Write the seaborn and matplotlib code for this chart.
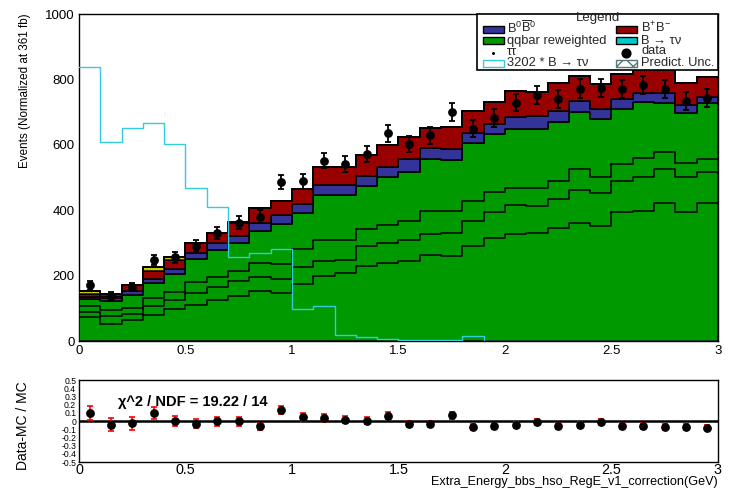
import numpy as np
import pandas as pd
import matplotlib
matplotlib.use("Agg")
import matplotlib.pyplot as plt
from matplotlib.patches import Rectangle
from matplotlib.lines import Line2D
from matplotlib.ticker import MultipleLocator, FixedLocator, FixedFormatter
import seaborn as sns

# ---- binning: extra energy, 30 bins of 0.1 GeV ----
n_bins = 30
e_range = (0.0, 3.0)
bin_edges = np.linspace(e_range[0], e_range[1], n_bins + 1)
bin_centers = 0.5 * (bin_edges[:-1] + bin_edges[1:])

# ---- stacked MC samples (events per bin, normalised to 361 fb^-1) ----
qqbar = [128, 123, 140, 176, 205, 250, 278, 299, 335, 358,
         390, 446, 447, 474, 502, 517, 556, 553, 605, 633,
         649, 649, 670, 700, 678, 709, 731, 727, 696, 727]
b0b0bar = [6, 7, 12, 15, 16, 18, 23, 22, 27, 26,
           29, 30, 31, 31, 31, 39, 34, 35, 32, 31,
           37, 39, 34, 35, 31, 32, 28, 30, 27, 20]
bpbm = [10, 8, 18, 24, 27, 31, 28, 39, 44, 43,
        46, 55, 55, 65, 65, 69, 61, 67, 65, 67,
        80, 74, 84, 75, 77, 76, 74, 72, 67, 61]
tautau = [10, 6, 1, 10, 8, 2, 2, 3, 1, 1,
          0, 0, 0, 0, 0, 0, 0, 0, 0, 0,
          0, 0, 0, 0, 0, 0, 0, 0, 0, 0]
btaunu = [0.26, 0.19, 0.20, 0.21, 0.19, 0.15, 0.13, 0.08, 0.08, 0.09,
          0.03, 0.03, 0.01, 0.0, 0.0, 0.0, 0.0, 0.0, 0.0, 0.0,
          0.0, 0.0, 0.0, 0.0, 0.0, 0.0, 0.0, 0.0, 0.0, 0.0]
# signal scaled by 3202, drawn as an outline
btaunu_x3202 = [837, 610, 650, 666, 601, 467, 410, 257, 270, 282,
                97, 107, 17, 13, 7, 3, 2, 2, 15, 1,
                1, 1, 1, 1, 1, 1, 1, 1, 1, 1]

# qqbar sub-sample contours drawn over the green fill
qq_contour_upper = [107, 95, 102, 133, 151, 179, 195, 214, 238, 234,
                    282, 309, 310, 343, 356, 368, 399, 398, 429, 456,
                    468, 468, 490, 526, 503, 540, 561, 579, 545, 556]
qq_contour_middle = [88, 75, 82, 107, 125, 146, 164, 185, 195, 191,
                     227, 246, 248, 291, 300, 308, 326, 330, 367, 395,
                     417, 412, 435, 462, 452, 490, 502, 527, 503, 517]
qq_contour_lower = [73, 52, 64, 81, 97, 110, 125, 138, 154, 146,
                    174, 199, 207, 228, 239, 246, 263, 260, 292, 315,
                    327, 331, 346, 362, 352, 394, 399, 421, 394, 421]

data_counts = [170, 138, 166, 247, 256, 291, 331, 362, 380, 486,
               488, 551, 541, 572, 635, 602, 629, 700, 649, 682,
               729, 751, 739, 772, 774, 770, 782, 770, 735, 743]

chi2_text = "\u03c7^2 / NDF = 19.22 / 14"

# ---- colours (ROOT-like palette) ----
C_GREEN = "#009900"
C_BLUE = "#333399"
C_RED = "#990000"
C_YELLOW = "#CCCC00"
C_CYAN = "#00CCCC"
C_CYAN_LINE = "#33CCDD"

sns.set_theme(style="white")
plt.rcParams["font.family"] = ["Liberation Sans", "DejaVu Sans"]
plt.rcParams["mathtext.fontset"] = "custom"
plt.rcParams["mathtext.rm"] = "Liberation Sans"
plt.rcParams["mathtext.it"] = "Liberation Sans:italic"
plt.rcParams["axes.unicode_minus"] = False
plt.rcParams["hatch.color"] = "#99CCCC"

W, H = 731, 498
fig = plt.figure(figsize=(W / 100, H / 100), dpi=100)
fig.patch.set_facecolor("white")


def px_rect(x0, y0, x1, y1):
    return [x0 / W, 1 - y1 / H, (x1 - x0) / W, (y1 - y0) / H]


ax = fig.add_axes(px_rect(79, 14, 718, 341))
axr = fig.add_axes(px_rect(79, 380, 718, 462))

# ---- stacked histogram ----
stack_order = ["B->taunu", "tautau", "B+B-", "B0B0bar", "qqbar"]
stack_palette = {"B->taunu": C_CYAN, "tautau": C_YELLOW, "B+B-": C_RED,
                 "B0B0bar": C_BLUE, "qqbar": C_GREEN}
stack_values = {"B->taunu": btaunu, "tautau": tautau, "B+B-": bpbm,
                "B0B0bar": b0b0bar, "qqbar": qqbar}
rows = []
for name, vals in stack_values.items():
    for c, v in zip(bin_centers, vals):
        rows.append((c, v, name))
stack_df = pd.DataFrame(rows, columns=["energy", "events", "sample"])

sns.histplot(data=stack_df, x="energy", weights="events", hue="sample",
             hue_order=stack_order, palette=stack_palette,
             bins=n_bins, binrange=e_range,
             multiple="stack", element="step", fill=True, alpha=1,
             edgecolor="black", linewidth=1.1, legend=False, ax=ax, zorder=2)

for contour in (qq_contour_upper, qq_contour_middle, qq_contour_lower):
    sns.histplot(x=bin_centers, weights=contour, bins=n_bins, binrange=e_range,
                 element="step", fill=False, color="black", linewidth=1.1,
                 ax=ax, zorder=3)

sns.histplot(x=bin_centers, weights=btaunu_x3202, bins=n_bins, binrange=e_range,
             element="step", fill=False, color=C_CYAN_LINE, linewidth=1.0,
             ax=ax, zorder=3)

data_arr = np.array(data_counts, dtype=float)
ax.errorbar(bin_centers, data_arr, yerr=np.sqrt(data_arr), fmt="none",
            ecolor="black", elinewidth=1.3, capsize=2.2, capthick=1.3, zorder=5)
sns.scatterplot(x=bin_centers, y=data_arr, color="black", s=40, marker="o",
                linewidth=0, ax=ax, zorder=6, legend=False)

ax.set_xlim(0, 3)
ax.set_ylim(0, 1000)
ax.set_xlabel("")
ax.set_ylabel("")
ax.set_axisbelow(True)
ax.xaxis.set_major_locator(FixedLocator([0, 0.5, 1, 1.5, 2, 2.5, 3]))
ax.xaxis.set_major_formatter(FixedFormatter(["0", "0.5", "1", "1.5", "2", "2.5", "3"]))
ax.xaxis.set_minor_locator(MultipleLocator(0.1))
ax.yaxis.set_major_locator(MultipleLocator(200))
ax.yaxis.set_minor_locator(MultipleLocator(50))
ax.tick_params(axis="both", which="major", direction="in", length=7, width=1,
               color="black", labelsize=9.5, labelcolor="black")
ax.tick_params(axis="both", which="minor", direction="in", length=3.5, width=1,
               color="black")
ax.tick_params(axis="x", pad=3)
ax.tick_params(axis="y", pad=3)
for s in ax.spines.values():
    s.set_color("black")
    s.set_linewidth(1.0)
    s.set_zorder(1)

# ---- ratio panel ----
mc_total = (np.array(qqbar) + np.array(b0b0bar) + np.array(bpbm)
            + np.array(tautau) + np.array(btaunu))
ratio = data_arr / mc_total - 1.0
ratio_err = np.sqrt(data_arr) / mc_total

axr.axhline(0, color="black", linewidth=1.8, zorder=2)
axr.errorbar(bin_centers, ratio, yerr=ratio_err, fmt="none", ecolor="red",
             elinewidth=1.2, capsize=2, capthick=1.2, zorder=3)
sns.scatterplot(x=bin_centers, y=ratio, color="black", s=40, marker="o",
                linewidth=0, ax=axr, zorder=4, legend=False)
axr.set_xlim(0, 3)
axr.set_ylim(-0.5, 0.5)
axr.set_xlabel("")
axr.set_ylabel("")
rt = [round(v, 1) for v in np.arange(-0.5, 0.51, 0.1)]
axr.yaxis.set_major_locator(FixedLocator(rt))
axr.yaxis.set_major_formatter(FixedFormatter(["0" if abs(v) < 1e-9 else f"{v:g}" for v in rt]))
axr.yaxis.set_minor_locator(MultipleLocator(0.01))
axr.xaxis.set_major_locator(FixedLocator([0, 0.5, 1, 1.5, 2, 2.5, 3]))
axr.xaxis.set_major_formatter(FixedFormatter(["0", "0.5", "1", "1.5", "2", "2.5", "3"]))
axr.xaxis.set_minor_locator(MultipleLocator(0.1))
axr.tick_params(axis="y", which="major", direction="in", length=13, width=1,
                labelsize=6.2, pad=2, color="black", labelcolor="black")
axr.tick_params(axis="y", which="minor", direction="in", length=6, width=0.5,
                color="black")
axr.tick_params(axis="x", which="major", direction="in", length=6, width=1,
                labelsize=10.4, pad=1, color="black", labelcolor="black")
axr.tick_params(axis="x", which="minor", direction="in", length=3, width=1,
                color="black")
for s in axr.spines.values():
    s.set_color("black")
    s.set_linewidth(1.0)

axr.text(0.183, 0.23, chi2_text, fontsize=10.5, fontweight="bold",
         ha="left", va="center", color="black", zorder=6)

# ---- axis titles ----
fig.text(25 / W, 1 - 13 / H, "Events (Normalized at 361 fb)", rotation=90,
         ha="center", va="top", fontsize=8.4, color="black")
fig.text(23 / W, 1 - 381 / H, "Data-MC / MC", rotation=90,
         ha="center", va="top", fontsize=10, color="black")
fig.text(718 / W, 1 - 482 / H, "Extra_Energy_bbs_hso_RegE_v1_correction(GeV)",
         ha="right", va="center", fontsize=9.1, color="black")

# ---- legend box (pixel coordinates) ----
ov = fig.add_axes([0, 0, 1, 1], zorder=10)
ov.set_xlim(0, W)
ov.set_ylim(H, 0)
ov.axis("off")
ov.patch.set_alpha(0)

ov.add_patch(Rectangle((477, 14), 241, 56, facecolor="white",
                       edgecolor="black", linewidth=1.2))
ov.text(598, 17.5, "Legend", ha="center", va="center", fontsize=9.5)

fs = 9.3
col1_box, col2_box = 483, 616
col1_txt, col2_txt = 507, 641
box_w, box_h = 20.5, 7


def legend_box(x, yc, face, edge="black", hatch=None, lw=1.0):
    ov.add_patch(Rectangle((x, yc - box_h / 2), box_w, box_h, facecolor=face,
                           edgecolor=edge, linewidth=lw, hatch=hatch))


legend_box(col1_box, 29.5, C_BLUE)
ov.text(col1_txt, 28.3, r"$\mathregular{B^{0}\overline{B}^{0}}$", ha="left",
        va="center", fontsize=fs)
legend_box(col2_box, 29.5, C_RED)
ov.text(col2_txt, 28.3, r"$\mathregular{B^{+}B^{-}}$", ha="left", va="center",
        fontsize=fs)

legend_box(col1_box, 40, C_GREEN)
ov.text(col1_txt, 40.5, "qqbar reweighted", ha="left", va="center", fontsize=fs)
legend_box(col2_box, 40, C_CYAN)
ov.text(col2_txt, 40.5, "B \u2192 \u03c4\u03bd", ha="left", va="center",
        fontsize=fs)

ov.add_line(Line2D([493], [52.5], marker="o", markersize=1.2, color="black",
                   linestyle="none"))
ov.text(col1_txt, 51.5, "\u03c4\u03c4", ha="left", va="center", fontsize=fs)
ov.add_line(Line2D([626], [53], marker="o", markersize=6.3, color="black",
                   linestyle="none"))
ov.text(col2_txt, 51, "data", ha="left", va="center", fontsize=fs)

legend_box(col1_box, 63.5, "white", edge=C_CYAN_LINE, lw=1.0)
ov.text(col1_txt, 62.5, "3202 * B \u2192 \u03c4\u03bd", ha="left", va="center",
        fontsize=fs)
legend_box(col2_box, 63.5, "white", edge="#557777", hatch="xx", lw=1.0)
ov.text(col2_txt, 62.5, "Predict. Unc.", ha="left", va="center", fontsize=fs)

fig.savefig("out.png", dpi=100, facecolor="white")
